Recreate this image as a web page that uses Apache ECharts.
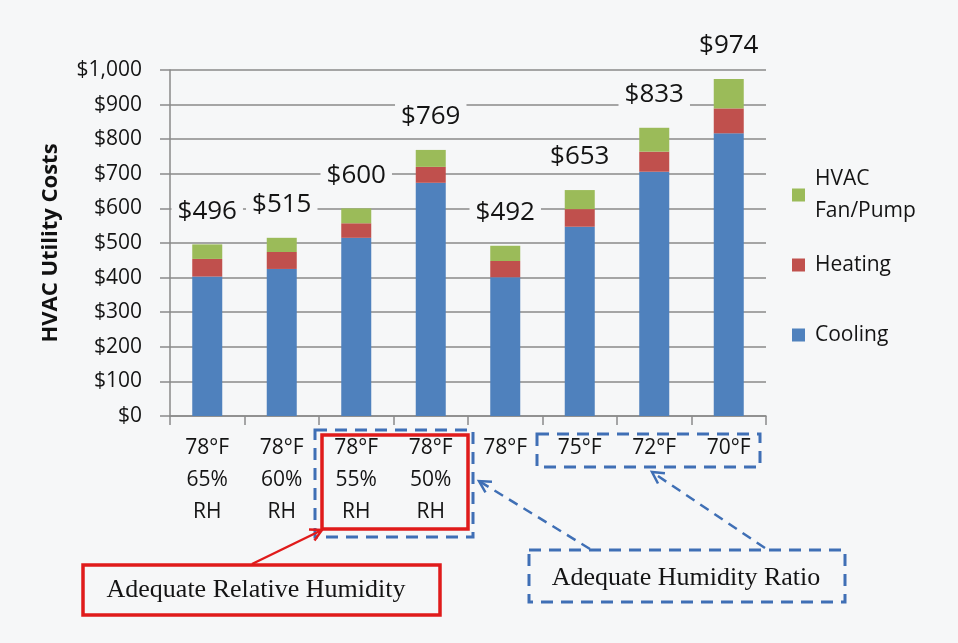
<!DOCTYPE html>
<html>
<head>
<meta charset="utf-8">
<title>HVAC Utility Costs</title>
<script src="https://cdn.jsdelivr.net/npm/echarts@6/dist/echarts.min.js"></script>
<style>
  html, body { margin: 0; padding: 0; background: #f6f7f8; }
  #chart { width: 958px; height: 643px; }
</style>
</head>
<body>
<div id="chart"></div>
<script>
  // data
  const categories = ['78°F\n65%\nRH', '78°F\n60%\nRH', '78°F\n55%\nRH', '78°F\n50%\nRH', '78°F', '75°F', '72°F', '70°F'];
  const cooling = [403, 425, 515, 674, 401, 547, 706, 817];
  const heating = [51, 49, 42, 46, 47, 51, 58, 72];
  const fanPump = [42, 41, 43, 49, 44, 55, 69, 85];
  const totals = [496, 515, 600, 769, 492, 653, 833, 974];
  const yMin = 0;
  const yMax = 1000;
  const yStep = 100;

  const BG = '#f6f7f8';
  const TEXT = '#141414';
  const GRID = '#8a8a8a';
  const BLUE_NOTE = '#3f6fb5';
  const RED_NOTE = '#e01b1b';
  const FONT = '"Open Sans", "Noto Sans", sans-serif';
  const SERIF = '"Liberation Serif", "DejaVu Serif", serif';

  const chart = echarts.init(document.getElementById('chart'));

  function arrowHead(x1, y1, x2, y2, size, color) {
    const a = Math.atan2(y2 - y1, x2 - x1);
    const s = 0.5;
    return {
      type: 'polyline',
      z: 20,
      shape: {
        points: [
          [x2 - size * Math.cos(a - s), y2 - size * Math.sin(a - s)],
          [x2, y2],
          [x2 - size * Math.cos(a + s), y2 - size * Math.sin(a + s)],
        ],
      },
      style: { stroke: color, lineWidth: 2.5, fill: null },
    };
  }

  const legendBase = {
    orient: 'vertical',
    left: 792,
    padding: 0,
    icon: 'rect',
    itemWidth: 13,
    itemHeight: 13,
    selectedMode: false,
  };
  const legendText = {
    color: TEXT,
    fontSize: 21,
    lineHeight: 32,
    fontFamily: FONT,
  };

  const option = {
    backgroundColor: BG,
    animation: false,
    grid: {
      left: 170,
      right: 192,
      top: 70,
      bottom: 227,
    },
    legend: [
      { ...legendBase, top: 147, data: ['HVAC\nFan/Pump'], textStyle: { ...legendText, padding: [32, 0, 0, 5] } },
      { ...legendBase, top: 249, data: ['Heating'], textStyle: { ...legendText, padding: [0, 0, 0, 5] } },
      { ...legendBase, top: 319, data: ['Cooling'], textStyle: { ...legendText, padding: [0, 0, 0, 5] } },
    ],
    xAxis: {
      type: 'category',
      data: categories,
      axisLine: { lineStyle: { color: GRID, width: 1.5 } },
      axisTick: { show: true, length: 9, interval: 0, lineStyle: { color: GRID, width: 1.5 } },
      axisLabel: {
        interval: 0,
        margin: 16,
        color: TEXT,
        fontSize: 21,
        lineHeight: 32,
        fontFamily: FONT,
      },
    },
    yAxis: {
      type: 'value',
      min: yMin,
      max: yMax,
      interval: yStep,
      name: 'HVAC Utility Costs',
      nameLocation: 'middle',
      nameGap: 108,
      nameTextStyle: {
        color: '#111',
        fontSize: 22,
        fontWeight: 'bold',
        fontFamily: FONT,
      },
      axisLine: { show: true, lineStyle: { color: GRID, width: 1.5 } },
      axisTick: { show: true, length: 10, lineStyle: { color: GRID, width: 1.5 } },
      splitLine: { lineStyle: { color: GRID, width: 1.5 } },
      axisLabel: {
        margin: 28,
        color: TEXT,
        fontSize: 21,
        fontFamily: FONT,
        formatter: (v) => '$' + v.toLocaleString('en-US'),
      },
    },
    series: [
      {
        name: 'Cooling',
        type: 'bar',
        stack: 'cost',
        barWidth: 30,
        data: cooling,
        itemStyle: { color: '#4f81bd' },
      },
      {
        name: 'Heating',
        type: 'bar',
        stack: 'cost',
        barWidth: 30,
        data: heating,
        itemStyle: { color: '#c0504d' },
      },
      {
        name: 'HVAC\nFan/Pump',
        type: 'bar',
        stack: 'cost',
        barWidth: 30,
        data: fanPump,
        itemStyle: { color: '#9bbb59' },
        label: {
          show: true,
          position: 'top',
          distance: 18,
          color: TEXT,
          fontSize: 26,
          lineHeight: 30,
          fontFamily: FONT,
          backgroundColor: BG,
          padding: [0, 6],
          formatter: (p) => '$' + totals[p.dataIndex],
        },
      },
    ],
    graphic: [
      // blue dashed box round the 55% / 50% labels
      {
        type: 'rect',
        z: 18,
        shape: { x: 315, y: 430, width: 158, height: 107 },
        style: { fill: null, stroke: BLUE_NOTE, lineWidth: 3, lineDash: [12, 8] },
      },
      // red box round the same labels
      {
        type: 'rect',
        z: 19,
        shape: { x: 322, y: 435, width: 146, height: 94 },
        style: { fill: null, stroke: RED_NOTE, lineWidth: 3.5 },
      },
      // blue dashed box round 75°F - 70°F
      {
        type: 'rect',
        z: 18,
        shape: { x: 537, y: 434, width: 223, height: 33 },
        style: { fill: null, stroke: BLUE_NOTE, lineWidth: 3, lineDash: [12, 8] },
      },
      // note: Adequate Relative Humidity
      {
        type: 'rect',
        z: 18,
        shape: { x: 83, y: 565, width: 357, height: 50 },
        style: { fill: null, stroke: RED_NOTE, lineWidth: 3.5 },
      },
      {
        type: 'text',
        z: 19,
        x: 256,
        y: 590,
        style: {
          text: 'Adequate Relative Humidity',
          fill: TEXT,
          font: '26px ' + SERIF,
          align: 'center',
          verticalAlign: 'middle',
        },
      },
      {
        type: 'line',
        z: 20,
        shape: { x1: 252, y1: 564, x2: 322, y2: 530 },
        style: { stroke: RED_NOTE, lineWidth: 2.5 },
      },
      arrowHead(252, 564, 322, 530, 13, RED_NOTE),
      // note: Adequate Humidity Ratio
      {
        type: 'rect',
        z: 18,
        shape: { x: 529, y: 550, width: 316, height: 52 },
        style: { fill: null, stroke: BLUE_NOTE, lineWidth: 3, lineDash: [12, 8] },
      },
      {
        type: 'text',
        z: 19,
        x: 686,
        y: 578,
        style: {
          text: 'Adequate Humidity Ratio',
          fill: TEXT,
          font: '26px ' + SERIF,
          align: 'center',
          verticalAlign: 'middle',
        },
      },
      {
        type: 'line',
        z: 20,
        shape: { x1: 590, y1: 549, x2: 479, y2: 481 },
        style: { stroke: BLUE_NOTE, lineWidth: 2.5, lineDash: [10, 7] },
      },
      arrowHead(590, 549, 479, 481, 13, BLUE_NOTE),
      {
        type: 'line',
        z: 20,
        shape: { x1: 765, y1: 548, x2: 652, y2: 472 },
        style: { stroke: BLUE_NOTE, lineWidth: 2.5, lineDash: [10, 7] },
      },
      arrowHead(765, 548, 652, 472, 13, BLUE_NOTE),
    ],
  };

  chart.setOption(option);
</script>
</body>
</html>
